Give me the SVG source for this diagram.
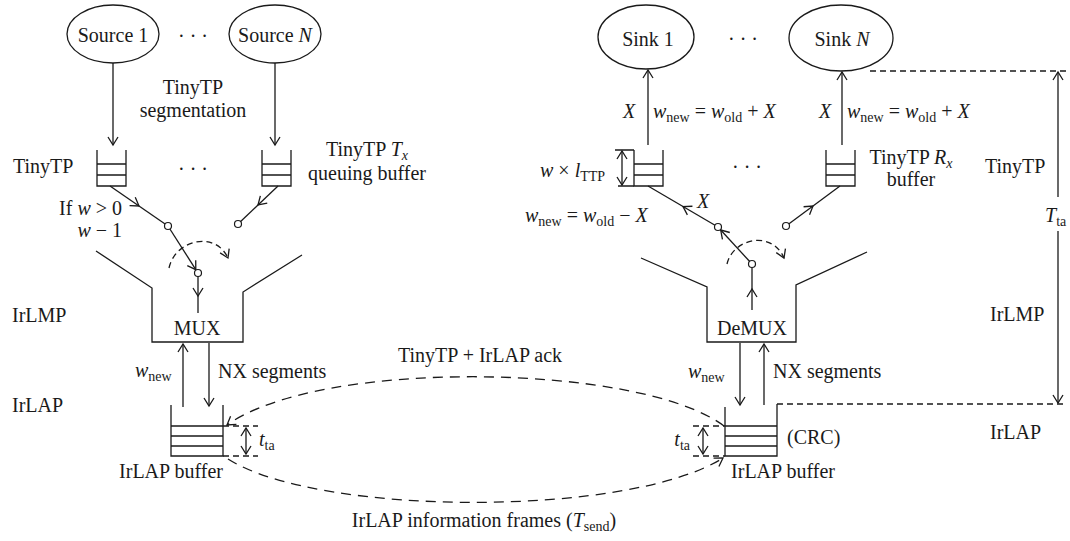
<svg xmlns="http://www.w3.org/2000/svg" width="1070" height="541" viewBox="0 0 1070 541" font-family="'Liberation Serif','Times New Roman',serif">
<defs>
<style>
.ln{stroke:#1a1a1a;stroke-width:1.3;fill:none}
.ds{stroke-dasharray:10 7}
.ds2{stroke-dasharray:6 4}
.node{stroke:#1a1a1a;stroke-width:1.3;fill:#fff}
.sw{stroke:#1a1a1a;stroke-width:1.2;fill:#fff}
text{font-family:"Liberation Serif","Times New Roman",serif;font-size:20px;fill:#1a1a1a}
.i{font-style:italic}
.sub{font-size:14px}
.m{text-anchor:middle}
.e{text-anchor:end}
</style>
<marker id="ah" viewBox="-10 -7 12 14" markerWidth="12" markerHeight="14" refX="0" refY="0" orient="auto-start-reverse" markerUnits="userSpaceOnUse">
<path d="M-8,-5 L0,0 L-8,5" fill="none" stroke="#1a1a1a" stroke-width="1.3"/>
</marker>
</defs>

<g id="source1"><ellipse class="node" cx="113" cy="34" rx="46" ry="29"/><text class="m" x="113" y="42">Source 1</text></g>
<g id="sourceN"><ellipse class="node" cx="275" cy="34" rx="46" ry="29"/><text class="m" x="275" y="42">Source <tspan class="i">N</tspan></text></g>
<g id="sink1"><ellipse class="node" cx="646" cy="37" rx="48" ry="32"/><text class="m" x="648" y="46">Sink 1</text></g>
<g id="sinkN"><ellipse class="node" cx="841" cy="38" rx="52" ry="33"/><text class="m" x="842" y="46">Sink <tspan class="i">N</tspan></text></g>

<g id="txq1"><path class="ln" d="M97,150 V186 H126 V150 M97,164 H126 M97,175 H126"/></g>
<g id="txqN"><path class="ln" d="M262,150 V186 H291 V150 M262,164 H291 M262,175 H291"/></g>
<g id="rxq1"><path class="ln" d="M634,150 V186 H663 V150 M634,164 H663 M634,175 H663"/></g>
<g id="rxqN"><path class="ln" d="M826,150 V186 H855 V150 M826,164 H855 M826,175 H855"/></g>

<g id="mux"><path class="ln" d="M96,251 L152,288 V342 H243 V292 L302,255"/><text class="m" x="197" y="335">MUX</text></g>
<g id="demux"><path class="ln" d="M641,258 L707,287 V342 H796 V285 L867,252"/><text class="m" x="752" y="335">DeMUX</text></g>

<g id="irlap-buf-tx"><path class="ln" d="M171,405 V456 H223 V405 M171,426 H223 M171,436 H223 M171,446 H223"/></g>
<g id="irlap-buf-rx"><path class="ln" d="M725,407 V456 H777 V404 M725,426 H777 M725,436 H777 M725,446 H777"/></g>

<g id="connectors">
<path class="ln" d="M113,63 V145" marker-end="url(#ah)"/>
<path class="ln" d="M275,63 V145" marker-end="url(#ah)"/>
<path class="ln" d="M648,145 V70" marker-end="url(#ah)"/>
<path class="ln" d="M842,145 V72" marker-end="url(#ah)"/>
<path class="ln" d="M110,186 L139,206 L168,226" marker-mid="url(#ah)"/>
<path class="ln" d="M168,226 L195.8,269.6" marker-end="url(#ah)"/>
<path class="ln" d="M198,276 L198,296 L198,313" marker-mid="url(#ah)"/>
<path class="ln" d="M278,186 L258,205 L238,224" marker-mid="url(#ah)"/>
<path class="ln ds2" d="M169,268 C175,240 215,230 228,258" marker-end="url(#ah)"/>
<circle class="sw" cx="168" cy="226" r="3.5"/>
<circle class="sw" cx="198" cy="273" r="3.5"/>
<circle class="sw" cx="238" cy="224" r="3.5"/>
<path class="ln" d="M718,227 L683,206.5 L648,186" marker-mid="url(#ah)"/>
<path class="ln" d="M752,264 L720.7,230" marker-end="url(#ah)"/>
<path class="ln" d="M752,310 L752,289 L752,268" marker-mid="url(#ah)"/>
<path class="ln" d="M786,226 L813,206 L840,186" marker-mid="url(#ah)"/>
<path class="ln ds2" d="M727,264 C733,238 772,230 784,258" marker-end="url(#ah)"/>
<circle class="sw" cx="718" cy="227" r="3.5"/>
<circle class="sw" cx="752" cy="264" r="3.5"/>
<circle class="sw" cx="786" cy="226" r="3.5"/>
<path class="ln" d="M183,407 V344" marker-end="url(#ah)"/>
<path class="ln" d="M209,343 V406" marker-end="url(#ah)"/>
<path class="ln" d="M740,343 V405" marker-end="url(#ah)"/>
<path class="ln" d="M764,405 V344" marker-end="url(#ah)"/>
<path class="ln ds" d="M724,426 C640,363 320,358 227,425" marker-end="url(#ah)"/>
<path class="ln ds" d="M228,459 C320,517 630,517 723,458" marker-end="url(#ah)"/>
<path class="ln ds2" d="M223,426 H258 M223,456 H258 M693,426 H725 M693,456 H725"/>
<path class="ln" d="M246,428 V454" marker-start="url(#ah)" marker-end="url(#ah)"/>
<path class="ln" d="M703,428 V454" marker-start="url(#ah)" marker-end="url(#ah)"/>
<path class="ln" d="M615,150 H634 M618,186 H634"/>
<path class="ln" d="M622,151 V185" marker-start="url(#ah)" marker-end="url(#ah)"/>
</g>

<g id="ruler">
<path class="ln ds2" d="M870,71 H1066 M777,404 H1066"/>
<path class="ln" d="M1058,197 V72" marker-end="url(#ah)"/>
<path class="ln" d="M1058,231 V403" marker-end="url(#ah)"/>
<text x="1045" y="222"><tspan class="i">T</tspan><tspan class="sub" dy="4">ta</tspan></text>
</g>

<g id="labels">
<text class="m" x="193" y="43">· · ·</text>
<text class="m" x="743" y="46">· · ·</text>
<text class="m" x="193" y="176">· · ·</text>
<text class="m" x="747" y="174">· · ·</text>
<text class="m" x="193" y="94">TinyTP</text>
<text class="m" x="193" y="117">segmentation</text>
<text x="13" y="173">TinyTP</text>
<text x="12" y="322">IrLMP</text>
<text x="12" y="412">IrLAP</text>
<text class="m" x="367" y="156">TinyTP <tspan class="i">T</tspan><tspan class="sub i" dy="4">x</tspan></text>
<text class="m" x="367" y="180">queuing buffer</text>
<text class="m" x="911" y="164">TinyTP <tspan class="i">R</tspan><tspan class="sub i" dy="4">x</tspan></text>
<text class="m" x="911" y="186">buffer</text>
<text x="985" y="173">TinyTP</text>
<text x="990" y="321">IrLMP</text>
<text x="990" y="439">IrLAP</text>
<text class="e" x="122" y="215">If <tspan class="i">w</tspan> &gt; 0</text>
<text class="e" x="122" y="237"><tspan class="i">w</tspan> − 1</text>
<text x="623" y="118" class="i">X</text>
<text x="653" y="118"><tspan class="i">w</tspan><tspan class="sub" dy="4">new</tspan><tspan dy="-4"> = </tspan><tspan class="i">w</tspan><tspan class="sub" dy="4">old</tspan><tspan dy="-4"> + </tspan><tspan class="i">X</tspan></text>
<text x="819" y="118" class="i">X</text>
<text x="847" y="118"><tspan class="i">w</tspan><tspan class="sub" dy="4">new</tspan><tspan dy="-4"> = </tspan><tspan class="i">w</tspan><tspan class="sub" dy="4">old</tspan><tspan dy="-4"> + </tspan><tspan class="i">X</tspan></text>
<text x="540" y="177"><tspan class="i">w</tspan> × <tspan class="i">l</tspan><tspan class="sub" dy="4">TTP</tspan></text>
<text x="697" y="208" class="i">X</text>
<text x="525" y="222"><tspan class="i">w</tspan><tspan class="sub" dy="4">new</tspan><tspan dy="-4"> = </tspan><tspan class="i">w</tspan><tspan class="sub" dy="4">old</tspan><tspan dy="-4"> − </tspan><tspan class="i">X</tspan></text>
<text x="135" y="377"><tspan class="i">w</tspan><tspan class="sub" dy="4">new</tspan></text>
<text x="218" y="378">NX segments</text>
<text x="688" y="378"><tspan class="i">w</tspan><tspan class="sub" dy="4">new</tspan></text>
<text x="773" y="378">NX segments</text>
<text class="m" x="480" y="362">TinyTP + IrLAP ack</text>
<text x="259" y="446"><tspan class="i">t</tspan><tspan class="sub" dy="4">ta</tspan></text>
<text class="e" x="690" y="446"><tspan class="i">t</tspan><tspan class="sub" dy="4">ta</tspan></text>
<text x="787" y="444">(CRC)</text>
<text class="m" x="171" y="478">IrLAP buffer</text>
<text class="m" x="783" y="478">IrLAP buffer</text>
<text class="m" x="484" y="527">IrLAP information frames (<tspan class="i">T</tspan><tspan class="sub" dy="4">send</tspan><tspan dy="-4">)</tspan></text>
</g>
</svg>
